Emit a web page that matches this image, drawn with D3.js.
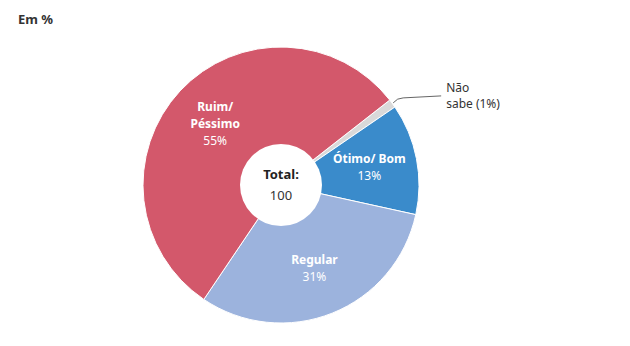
<!DOCTYPE html>
<html>
<head>
<meta charset="utf-8">
<script src="https://cdn.jsdelivr.net/npm/d3@7"></script>
<style>
  body { margin: 0; background: #fff; }
  text { font-family: "Noto Sans", "Open Sans", sans-serif; }
</style>
</head>
<body>
<div id="chart"></div>
<script>
// data
var categories = ["Não sabe", "Ótimo/ Bom", "Regular", "Ruim/ Péssimo"];
var values = [1, 13, 31, 55];
var colors = ["#d9d9d9", "#3a8bcb", "#9cb3dd", "#d3586b"];
var labelLines = [null, ["Ótimo/ Bom"], ["Regular"], ["Ruim/", "Péssimo"]];
var total = 100;

var width = 630, height = 346;
var cx = 281, cy = 185, outerR = 138, innerR = 41;
var startAngle = 52 * Math.PI / 180;

var svg = d3.select("#chart")
  .append("svg")
  .attr("width", width)
  .attr("height", height);

svg.append("text")
  .attr("x", 18).attr("y", 24)
  .attr("font-size", 13).attr("font-weight", "bold")
  .attr("fill", "#333")
  .text("Em %");

var pie = d3.pie().sort(null).value(function (d) { return d; })
  .startAngle(startAngle).endAngle(startAngle + 2 * Math.PI);
var arcs = pie(values);

var arc = d3.arc().innerRadius(0).outerRadius(outerR);
var labelArc = d3.arc().innerRadius(90).outerRadius(90);

var g = svg.append("g").attr("transform", "translate(" + cx + "," + cy + ")");

g.selectAll("path.slice")
  .data(arcs)
  .enter()
  .append("path")
  .attr("class", "slice")
  .attr("d", arc)
  .attr("fill", function (d, i) { return colors[i]; })
  .attr("stroke", "#fff")
  .attr("stroke-width", 1);

// center hole
g.append("circle").attr("r", innerR).attr("fill", "#fff");
g.append("text").attr("text-anchor", "middle").attr("y", -6)
  .attr("font-size", 13).attr("font-weight", "bold").attr("fill", "#222")
  .text("Total:");
g.append("text").attr("text-anchor", "middle").attr("y", 15)
  .attr("font-size", 13).attr("fill", "#333")
  .text(total);

// inner labels
arcs.forEach(function (d, i) {
  if (!labelLines[i]) return;
  var c = labelArc.centroid(d);
  var lines = labelLines[i];
  var n = lines.length + 1;
  var y0 = c[1] - (n - 1) * 17 / 2 + 4;
  var t = g.append("text").attr("text-anchor", "middle")
    .attr("font-size", 12).attr("fill", "#fff");
  lines.forEach(function (l, k) {
    t.append("tspan").attr("x", c[0]).attr("y", y0 + k * 17)
      .attr("font-weight", "bold").text(l);
  });
  t.append("tspan").attr("x", c[0]).attr("y", y0 + lines.length * 17)
    .text(values[i] + "%");
});

// outside label for Não sabe
var a0 = arcs[0];
var mid = (a0.startAngle + a0.endAngle) / 2;
var px = Math.sin(mid) * (outerR + 1), py = -Math.cos(mid) * (outerR + 1);
g.append("path")
  .attr("d", "M" + px + "," + py + " Q" + (px + 4) + "," + (py - 5) + " " + (px + 10) + "," + (py - 5) + " L" + (px + 48) + "," + (py - 7))
  .attr("fill", "none").attr("stroke", "#666").attr("stroke-width", 1);
var nt = g.append("text").attr("font-size", 12).attr("fill", "#333");
nt.append("tspan").attr("x", px + 53).attr("y", py - 11).text("Não");
nt.append("tspan").attr("x", px + 53).attr("y", py + 5).text("sabe (" + values[0] + "%)");
</script>
</body>
</html>
